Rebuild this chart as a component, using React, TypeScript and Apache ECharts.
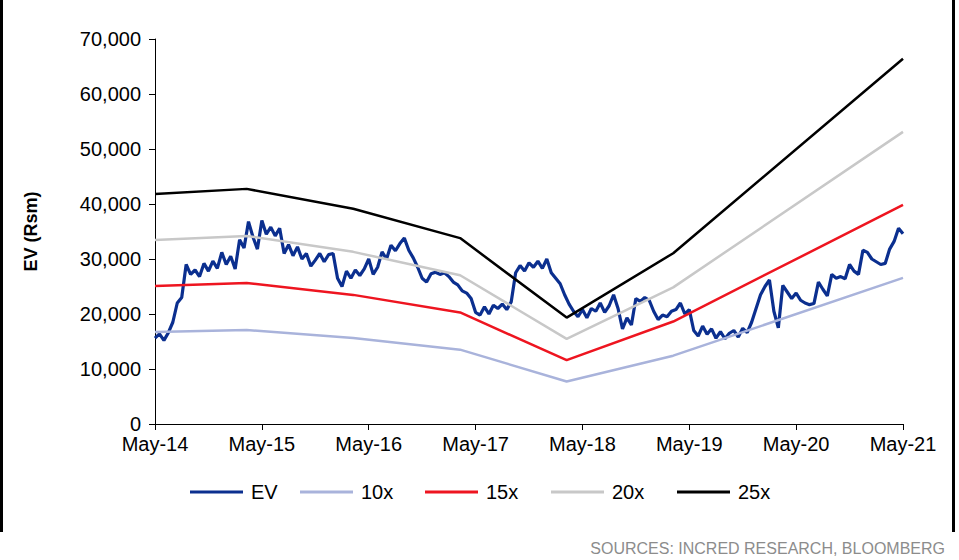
import React, { useEffect, useRef } from "react";
import * as echarts from "echarts";

// X-axis tick labels (one per year, May to May)
const tickLabels = ["May-14", "May-15", "May-16", "May-17", "May-18", "May-19", "May-20", "May-21"];

// EV (Rsm), half-monthly readings starting May-14
const evStart = "2014-05-01";
const evValues = [
  15600, 16400, 15200, 16600, 18500, 22000, 23000, 29000, 27200, 28000,
  26800, 29200, 27800, 29600, 28300, 31200, 29000, 30500, 28200, 33500,
  32000, 36800, 34000, 31800, 37000, 34500, 35800, 34200, 35600, 31000,
  32600, 30600, 32200, 30000, 31000, 28700, 29800, 31000, 29500, 30800,
  31000, 26500, 25000, 27800, 26500, 28000, 27000, 28200, 30000, 27200,
  28500, 31300, 30000, 32500, 31500, 32800, 33800, 31600, 30200, 28500,
  26500, 25800, 27300, 27600, 27200, 27500, 26800, 25800, 25300, 24200,
  23800, 22800, 20300, 19800, 21300, 20000, 21600, 21000, 21800, 20800,
  22200, 27500, 28800, 27800, 29300, 28500, 29600, 28300, 30000, 27500,
  26500, 25500, 23500, 21800, 20500, 19500, 20800, 19300, 21000, 20500,
  22000, 20300, 21500, 23500, 21000, 17300, 19300, 18000, 22800, 22300,
  23000, 22500, 20500, 19000, 19800, 19500, 20500, 20800, 22000, 20000,
  20800, 17000, 16000, 17800, 16300, 17300, 15600, 16800, 15500, 16500,
  17000, 15800, 17400, 16600, 18500, 21000, 23500, 25000, 26200, 20500,
  17500, 25200, 24000, 22800, 23800, 22500, 22000, 21700, 21900, 25800,
  24500, 23300, 27200, 26500, 26800, 26400, 29000, 27800, 27200, 31600,
  31200, 30000, 29500, 29000, 29200, 31800, 33200, 35600, 34600,
];

// Earnings-multiple bands: dates of earnings points and earnings per 1x (Rsm)
const bandDates = ["2014-05-01", "2015-03-10", "2016-03-09", "2017-03-09", "2018-03-08", "2019-03-07", "2021-05-01"];
const bandEarnings = [1672, 1710, 1565, 1352, 774, 1242, 2656];
const multiples = [10, 15, 20, 25];
const multipleNames = ["10x", "15x", "20x", "25x"];

const yTicks = [0, 10000, 20000, 30000, 40000, 50000, 60000, 70000];

const monthsFromStart = (d: string) => {
  const [y, m, day] = d.split("-").map(Number);
  const [y0, m0, d0] = evStart.split("-").map(Number);
  return (y - y0) * 12 + (m - m0) + (day - d0) / 30.5;
};

const colors = {
  ev: "#0B2F8F",
  "10x": "#A9B3DB",
  "15x": "#EE1520",
  "20x": "#C8C8C8",
  "25x": "#000000",
};

const FONT = "'Liberation Sans', Arial, sans-serif";

export default function App() {
  const ref = useRef<HTMLDivElement>(null);

  useEffect(() => {
    if (!ref.current) return;
    const chart = echarts.init(ref.current, undefined, { renderer: "svg" });

    const evData = evValues.map((v, i) => [i * 0.5, v]);
    const bandX = bandDates.map(monthsFromStart);

    const bandSeries = multiples.map((mult, k) => ({
      name: multipleNames[k],
      type: "line",
      symbol: "none",
      data: bandEarnings.map((e, i) => [bandX[i], e * mult]),
      lineStyle: { color: (colors as any)[multipleNames[k]], width: 2.5 },
      itemStyle: { color: (colors as any)[multipleNames[k]] },
      z: 3 + k,
    }));

    const legendNames = ["EV", ...multipleNames];
    const legendLeft = [190, 300, 425, 551, 677];

    chart.setOption({
      animation: false,
      textStyle: { fontFamily: FONT },
      grid: { left: 155, right: 56, top: 39, bottom: 136, containLabel: false },
      legend: legendNames.map((n, i) => ({
        data: [n],
        left: legendLeft[i],
        top: 482,
        padding: 0,
        icon: "rect",
        itemWidth: 53,
        itemHeight: 3,
        textStyle: { fontSize: 20, color: "#000", fontFamily: FONT, padding: [0, 0, 0, 3] },
        selectedMode: false,
      })),
      xAxis: {
        type: "value",
        min: 0,
        max: 84,
        interval: 12,
        axisLine: { lineStyle: { color: "#000", width: 1 } },
        axisTick: { show: true, length: 6, lineStyle: { color: "#000" } },
        axisLabel: {
          fontSize: 20,
          color: "#000",
          margin: 10,
          fontFamily: FONT,
          formatter: (v: number) => tickLabels[Math.round(v / 12)] ?? "",
        },
        splitLine: { show: false },
      },
      yAxis: {
        type: "value",
        min: yTicks[0],
        max: yTicks[yTicks.length - 1],
        interval: 10000,
        name: "EV (Rsm)",
        nameLocation: "middle",
        nameRotate: 90,
        nameGap: 115,
        nameTextStyle: { fontSize: 18, fontWeight: "bold", color: "#000", fontFamily: FONT },
        axisLine: { show: true, lineStyle: { color: "#000", width: 1 } },
        axisTick: { show: true, length: 6, inside: false, lineStyle: { color: "#000" } },
        axisLabel: {
          fontSize: 20,
          color: "#000",
          margin: 14,
          fontFamily: FONT,
          formatter: (v: number) => v.toLocaleString("en-US"),
        },
        splitLine: { show: false },
      },
      series: [
        {
          name: "EV",
          type: "line",
          symbol: "none",
          data: evData,
          lineStyle: { color: colors.ev, width: 3.2 },
          itemStyle: { color: colors.ev },
          z: 2,
        },
        ...bandSeries,
      ],
      graphic: [
        { type: "rect", left: 0, top: 0, shape: { width: 3, height: 532 }, style: { fill: "#000" } },
        { type: "rect", left: 952, top: 0, shape: { width: 3, height: 532 }, style: { fill: "#000" } },
        {
          type: "text",
          right: 14,
          top: 540,
          style: {
            text: "SOURCES: INCRED RESEARCH, BLOOMBERG",
            fontSize: 16,
            fill: "#8C8C8C",
            fontFamily: FONT,
          },
        },
      ],
    });

    return () => chart.dispose();
  }, []);

  return (
    <div
      ref={ref}
      style={{ position: "fixed", left: 0, top: 0, width: 959, height: 560, background: "#fff" }}
    />
  );
}
